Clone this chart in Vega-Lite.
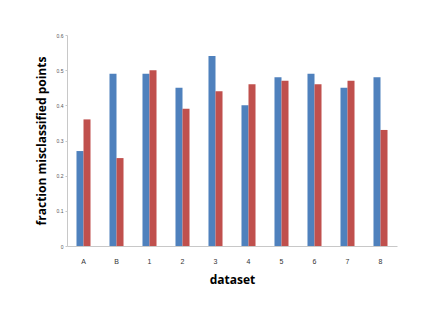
{
  "$schema": "https://vega.github.io/schema/vega-lite/v6.json",
  "width": 330,
  "height": 211,
  "autosize": {"type": "none"},
  "padding": {"left": 67, "top": 35, "right": 39, "bottom": 81},
  "background": "white",
  "config": {"view": {"stroke": null}, "font": "Liberation Sans"},
  "data": {
    "values": [
      {"dataset": "A", "series": "s1", "value": 0.27},
      {"dataset": "A", "series": "s2", "value": 0.36},
      {"dataset": "B", "series": "s1", "value": 0.49},
      {"dataset": "B", "series": "s2", "value": 0.25},
      {"dataset": "1", "series": "s1", "value": 0.49},
      {"dataset": "1", "series": "s2", "value": 0.50},
      {"dataset": "2", "series": "s1", "value": 0.45},
      {"dataset": "2", "series": "s2", "value": 0.39},
      {"dataset": "3", "series": "s1", "value": 0.54},
      {"dataset": "3", "series": "s2", "value": 0.44},
      {"dataset": "4", "series": "s1", "value": 0.40},
      {"dataset": "4", "series": "s2", "value": 0.46},
      {"dataset": "5", "series": "s1", "value": 0.48},
      {"dataset": "5", "series": "s2", "value": 0.47},
      {"dataset": "6", "series": "s1", "value": 0.49},
      {"dataset": "6", "series": "s2", "value": 0.46},
      {"dataset": "7", "series": "s1", "value": 0.45},
      {"dataset": "7", "series": "s2", "value": 0.47},
      {"dataset": "8", "series": "s1", "value": 0.48},
      {"dataset": "8", "series": "s2", "value": 0.33}
    ]
  },
  "mark": {"type": "bar"},
  "encoding": {
    "x": {
      "field": "dataset",
      "type": "nominal",
      "sort": ["A", "B", "1", "2", "3", "4", "5", "6", "7", "8"],
      "scale": {"paddingInner": 0.575, "paddingOuter": 0.2875},
      "axis": {
        "title": "dataset",
        "titleFont": "Open Sans",
        "titleFontSize": 12,
        "titleFontWeight": "bold",
        "titleColor": "black",
        "titlePadding": 10,
        "labelAngle": 0,
        "labelFontSize": 7,
        "labelColor": "#333",
        "labelPadding": 11,
        "ticks": false,
        "domainColor": "#c8c8c8",
        "domainWidth": 1
      }
    },
    "xOffset": {"field": "series", "type": "nominal", "sort": ["s1", "s2"]},
    "y": {
      "field": "value",
      "type": "quantitative",
      "scale": {"domain": [0, 0.6], "nice": false},
      "axis": {
        "title": "fraction misclassified points",
        "titleFont": "Open Sans",
        "titleFontSize": 12,
        "titleFontWeight": "bold",
        "titleColor": "black",
        "titlePadding": 8,
        "values": [0, 0.1, 0.2, 0.3, 0.4, 0.5, 0.6],
        "format": "~g",
        "labelFontSize": 5,
        "labelColor": "#555",
        "labelPadding": 2,
        "tickSize": 2,
        "tickColor": "#c8c8c8",
        "grid": false,
        "domainColor": "#c8c8c8",
        "domainWidth": 1
      }
    },
    "color": {
      "field": "series",
      "type": "nominal",
      "scale": {"domain": ["s1", "s2"], "range": ["#4F81BD", "#C0504D"]},
      "legend": null
    }
  }
}
